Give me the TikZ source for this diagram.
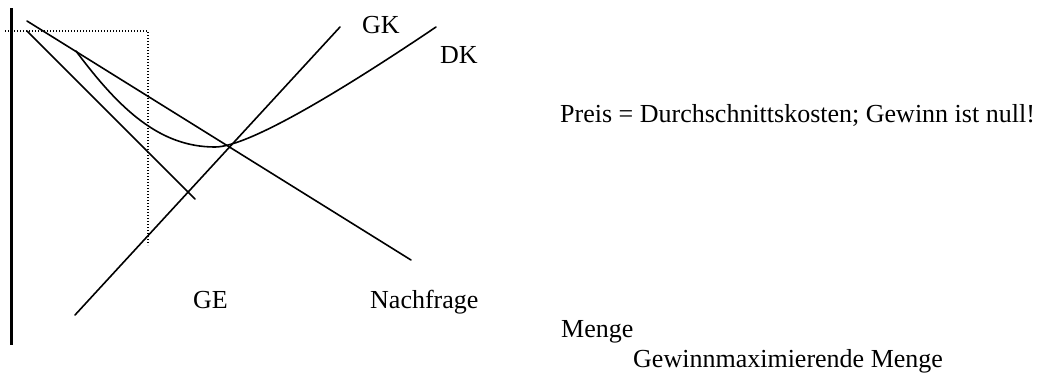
\documentclass[tikz,border=0pt]{standalone}
\usepackage{fontspec}
\setmainfont{Liberation Serif}
\begin{document}
\begin{tikzpicture}[x=1pt,y=-1pt,
  curve/.style={line width=1.6pt,line cap=round},
  axisline/.style={line width=3pt},
  guide/.style={line width=1.2pt,dash pattern=on 1.2pt off 1.8pt},
  lbl/.style={anchor=base west,inner sep=0pt,font=\fontsize{26}{30}\selectfont}]
\useasboundingbox (0,0) rectangle (1044,376);
% axis
\coordinate (axT) at (11.5,8);
\coordinate (axB) at (11.5,345);
\draw[axisline] (axT) -- (axB);
% dotted guide lines
\coordinate (dL) at (5,31);
\coordinate (dC) at (148,31);
\coordinate (dB) at (148,245);
\draw[guide] (dL) -- (dC) -- (dB);
% demand (Nachfrage)
\coordinate (nS) at (27,21);
\coordinate (nE) at (411,260);
\draw[curve] (nS) -- (nE);
% GE
\coordinate (geS) at (27,31);
\coordinate (geE) at (195,199);
\draw[curve] (geS) -- (geE);
% GK
\coordinate (gkS) at (75,315);
\coordinate (gkE) at (340,27);
\draw[curve] (gkS) -- (gkE);
% DK
\coordinate (dkS) at (76,51);
\coordinate (dkM) at (215,147);
\coordinate (dkE) at (436,27);
\draw[curve] (dkS) .. controls (120,110) and (160,147) .. (dkM)
  .. controls (250,147) and (350,85) .. (dkE);
% labels
\node[lbl] (gk) at (362,33) {GK};
\node[lbl] (dk) at (440,63) {DK};
\node[lbl] (ge) at (193,308) {GE};
\node[lbl] (nf) at (370,308) {Nachfrage};
\node[lbl] (pr) at (560,122) {Preis = Durchschnittskosten; Gewinn ist null!};
\node[lbl] (mg) at (561,337) {Menge};
\node[lbl] (gm) at (633,367) {Gewinnmaximierende Menge};
\end{tikzpicture}
\end{document}
